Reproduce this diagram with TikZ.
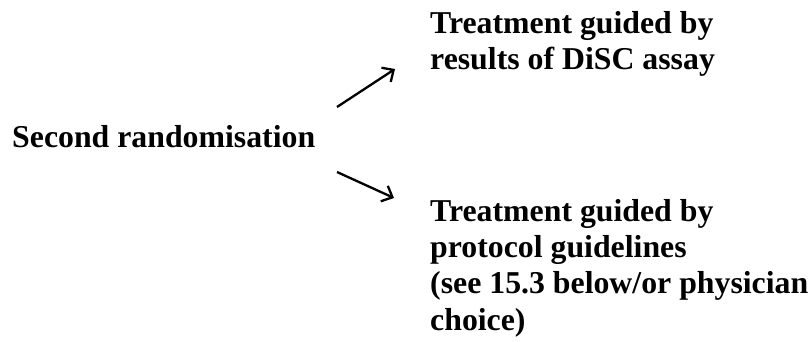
\documentclass[tikz,border=0pt]{standalone}
\usepackage{fontspec}
\setmainfont{Liberation Serif}
\usetikzlibrary{arrows.meta}
\begin{document}
\begin{tikzpicture}[x=1pt,y=-1pt,
  lbl/.style={inner sep=0pt, anchor=base west, align=left,
    font=\bfseries\fontsize{31.8}{36.3}\selectfont},
  arr/.style={line width=2.3pt, -{Straight Barb[length=9pt,width=17pt,line width=2.3pt]}}]
\useasboundingbox (0,0) rectangle (811,342);
% base anchor of a multi-line node lies on its last line
\node[lbl] (src) at (12,147) {Second randomisation};
\node[lbl] (top) at (430,70) {Treatment guided by\\results of DiSC assay};
\node[lbl] (bot) at (430,330) {Treatment guided by\\protocol guidelines\\(see 15.3 below/or physician\\choice)};
\coordinate (a1s) at (337,107);
\coordinate (a1e) at (395,69);
\coordinate (a2s) at (337,172);
\coordinate (a2e) at (394,198);
\draw[arr] (a1s) -- (a1e);
\draw[arr] (a2s) -- (a2e);
\end{tikzpicture}
\end{document}
